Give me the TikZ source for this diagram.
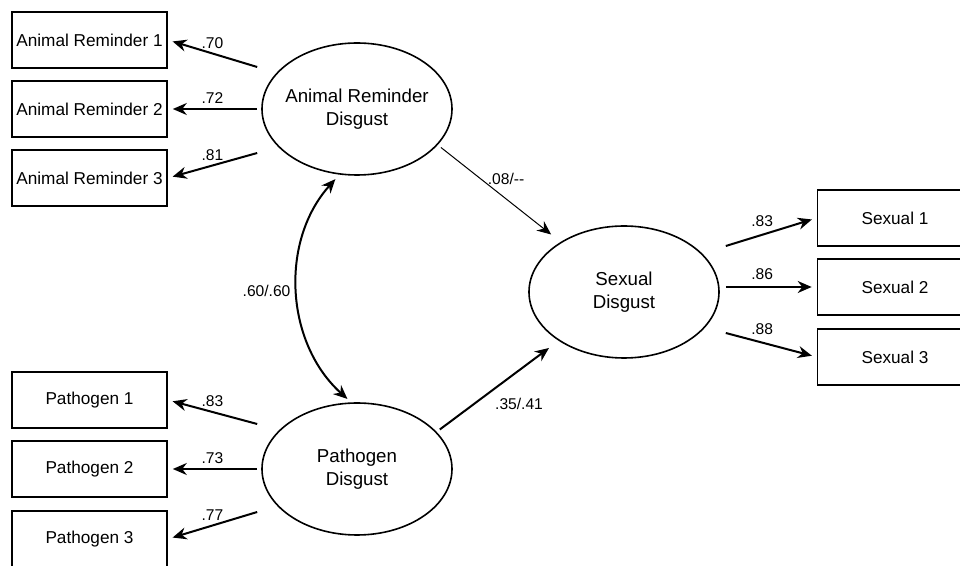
\documentclass[tikz,border=0pt]{standalone}
\usepackage{fontspec}
\setmainfont{Liberation Sans}
\usetikzlibrary{arrows.meta,calc,shapes.geometric}

\begin{document}
\begin{tikzpicture}[x=0.5pt,y=-0.5pt,
  item/.style={draw,line width=0.8pt,minimum width=77.5pt,minimum height=28pt,inner sep=0pt,font=\fontsize{8.6}{10}\selectfont},
  factor/.style={draw,ellipse,line width=0.8pt,minimum width=95pt,minimum height=66pt,inner xsep=-6pt,inner ysep=0pt,align=center,font=\fontsize{9.35}{11.5}\selectfont},
  load/.style={line width=1pt,-{Stealth[length=7pt,width=6pt]},shorten >=2.5pt},
  coef/.style={font=\fontsize{7.8}{9}\selectfont}]
\useasboundingbox (0,0) rectangle (960,566);

\node[factor] (ar) at (357,109) {Animal Reminder\\Disgust};
\node[factor] (pd) at (357,469) {Pathogen\\Disgust};
\node[factor] (sd) at (624,292) {Sexual\\Disgust};

\node[item] (a1) at (89.5,40) {Animal Reminder 1};
\node[item] (a2) at (89.5,109) {Animal Reminder 2};
\node[item] (a3) at (89.5,178) {Animal Reminder 3};
\node[item] (p1) at (89.5,400) {Pathogen 1};
\node[item] (p2) at (89.5,469) {Pathogen 2};
\node[item] (p3) at (89.5,539) {Pathogen 3};
\node[item] (s1) at (895,218) {Sexual 1};
\node[item] (s2) at (895,287) {Sexual 2};
\node[item] (s3) at (895,357) {Sexual 3};

% loadings
\draw[load] ($(ar.west)+(-4,-42)$) -- node[coef,above,inner sep=2pt] {.70} (a1.east);
\draw[load] ([xshift=-2pt]ar.west |- a2.east) -- node[coef,above,inner sep=2pt] {.72} (a2.east);
\draw[load] ($(ar.west)+(-4,44)$) -- node[coef,above,inner sep=2pt] {.81} (a3.east);
\draw[load] ($(pd.west)+(-4,-45)$) -- node[coef,above,inner sep=2pt] {.83} (p1.east);
\draw[load] ([xshift=-2pt]pd.west |- p2.east) -- node[coef,above,inner sep=2pt] {.73} (p2.east);
\draw[load] ($(pd.west)+(-4,43)$) -- node[coef,above,inner sep=2pt] {.77} (p3.east);
\draw[load] ($(sd.east)+(6,-46)$) -- node[coef,above,pos=0.4] {.83} (s1.west);
\draw[load] ([xshift=3pt]sd.east |- s2.west) -- node[coef,above,pos=0.4] {.86} (s2.west);
\draw[load] ($(sd.east)+(6,41)$) -- node[coef,above,pos=0.4] {.88} (s3.west);

% paths
\draw[load,line width=0.5pt,shorten <=2pt,shorten >=6pt] (ar.-24) -- node[coef,pos=0.35,right] {.08/-{}-} (sd);
\draw[load,shorten <=2pt,shorten >=6pt] (pd.25) -- node[coef,pos=0.45,below right,xshift=-2pt] {.35/.41} (sd);
\draw[line width=1pt,{Stealth[length=7pt,width=6pt]}-{Stealth[length=7pt,width=6pt]},shorten <=3pt,shorten >=2.5pt]
  (ar.-105) to[bend right=45] node[coef,left] {.60/.60} (pd.95);
\end{tikzpicture}
\end{document}
